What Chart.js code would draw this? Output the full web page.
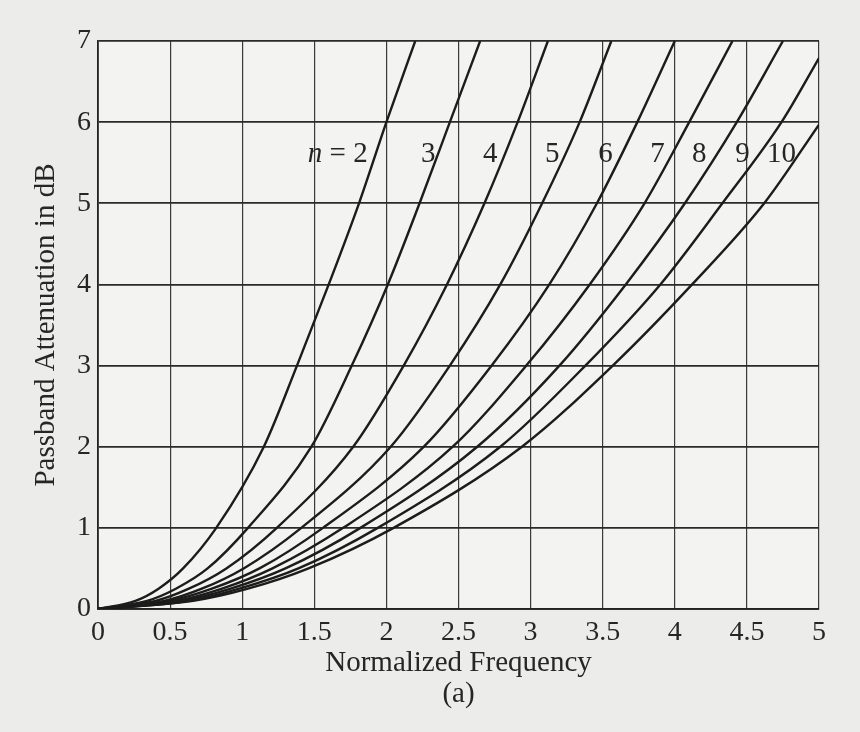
<!DOCTYPE html>
<html>
<head>
<meta charset="utf-8">
<title>Passband Attenuation</title>
<script src="https://cdn.jsdelivr.net/npm/chart.js@4.4.1/dist/chart.umd.min.js"></script>
<style>
    html, body { margin: 0; padding: 0; background: #ececea; }
    #wrap { width: 860px; height: 732px; }
</style>
</head>
<body>
<div id="wrap"><canvas id="attenChart" width="860" height="732"></canvas></div>
<script>
// Niveles de atenuación (dB) donde se leyó cada curva
const levels = [0, 0.1, 0.25, 0.5, 1, 2, 3, 4, 5, 6, 7];

// Frecuencia normalizada de cada curva en esos niveles (null = fuera del gráfico)
const freqN2  = [0, 0.26, 0.42, 0.59, 0.82, 1.15, 1.38, 1.60, 1.81, 2.00, 2.20];
const freqN3  = [0, 0.34, 0.54, 0.76, 1.04, 1.48, 1.76, 2.01, 2.23, 2.44, 2.65];
const freqN4  = [0, 0.40, 0.63, 0.89, 1.24, 1.77, 2.12, 2.42, 2.68, 2.91, 3.12];
const freqN5  = [0, 0.46, 0.72, 1.01, 1.41, 2.03, 2.44, 2.79, 3.08, 3.34, 3.56];
const freqN6  = [0, 0.50, 0.79, 1.12, 1.56, 2.26, 2.73, 3.13, 3.46, 3.74, 4.00];
const freqN7  = [0, 0.55, 0.86, 1.21, 1.70, 2.46, 2.97, 3.41, 3.79, 4.10, 4.40];
const freqN8  = [0, 0.59, 0.92, 1.30, 1.82, 2.63, 3.20, 3.66, 4.07, 4.43, 4.75];
const freqN9  = [0, 0.63, 0.98, 1.39, 1.94, 2.79, 3.38, 3.90, 4.33, 4.74, null];
const freqN10 = [0, 0.66, 1.04, 1.46, 2.05, 2.94, 3.57, 4.12, 4.62, null, null];

// Atenuación donde la curva sale por el borde derecho (f = 5)
const edgeFreq = 5;
const edgeAtten = { 9: 6.79, 10: 5.97 };

const orders = [2, 3, 4, 5, 6, 7, 8, 9, 10];
const freqByOrder = [freqN2, freqN3, freqN4, freqN5, freqN6, freqN7, freqN8, freqN9, freqN10];

// Ticks
const xTicks = [0, 0.5, 1, 1.5, 2, 2.5, 3, 3.5, 4, 4.5, 5];
const yTicks = [0, 1, 2, 3, 4, 5, 6, 7];

const datasets = orders.map(function(n, k) {
    const pts = [];
    freqByOrder[k].forEach(function(f, i) {
        if (f !== null) pts.push({ x: f, y: levels[i] });
    });
    if (edgeAtten[n] !== undefined) pts.push({ x: edgeFreq, y: edgeAtten[n] });
    return {
        label: 'n = ' + n,
        data: pts,
        borderColor: '#1c1c1c',
        borderWidth: 2.4,
        pointRadius: 0,
        fill: false,
        cubicInterpolationMode: 'monotone'
    };
});

const serif = '"Liberation Serif", "DejaVu Serif", serif';
const ink = '#262626';

// Etiquetas de las curvas
const curveLabels = [
    { text: '2', x: 1.87, y: 5.6, withN: true },
    { text: '3', x: 2.29, y: 5.6 },
    { text: '4', x: 2.72, y: 5.6 },
    { text: '5', x: 3.15, y: 5.6 },
    { text: '6', x: 3.52, y: 5.6 },
    { text: '7', x: 3.88, y: 5.6 },
    { text: '8', x: 4.17, y: 5.6 },
    { text: '9', x: 4.47, y: 5.6 },
    { text: '10', x: 4.74, y: 5.6 }
];

const paperPlugin = {
    id: 'paper',
    beforeDraw: function(chart) {
        const ctx = chart.ctx;
        ctx.save();
        ctx.fillStyle = '#ececea';
        ctx.fillRect(0, 0, chart.width, chart.height);
        const a = chart.chartArea;
        ctx.fillStyle = '#f3f3f1';
        ctx.fillRect(a.left, a.top, a.right - a.left, a.bottom - a.top);
        ctx.restore();
    }
};

const labelPlugin = {
    id: 'curveLabels',
    afterDatasetsDraw: function(chart) {
        const ctx = chart.ctx;
        const xs = chart.scales.x, ys = chart.scales.y;
        ctx.save();
        ctx.fillStyle = ink;
        ctx.textBaseline = 'middle';
        curveLabels.forEach(function(l) {
            const px = xs.getPixelForValue(l.x);
            const py = ys.getPixelForValue(l.y);
            ctx.font = '29px ' + serif;
            if (l.withN) {
                ctx.textAlign = 'right';
                ctx.fillText(' = ' + l.text, px, py);
                const w = ctx.measureText(' = ' + l.text).width;
                ctx.font = 'italic 29px ' + serif;
                ctx.fillText('n', px - w, py);
            } else {
                ctx.textAlign = 'center';
                ctx.fillText(l.text, px, py);
            }
        });
        ctx.restore();
    }
};

const ctx = document.getElementById('attenChart').getContext('2d');
const attenChart = new Chart(ctx, {
    type: 'line',
    data: { datasets: datasets },
    options: {
        responsive: false,
        animation: false,
        layout: { padding: { top: 41, right: 41, left: 0, bottom: 0 } },
        plugins: {
            legend: { display: false },
            tooltip: { enabled: false }
        },
        scales: {
            x: {
                type: 'linear',
                min: 0,
                max: 5,
                afterFit: function(scale) { scale.height = 123; },
                afterBuildTicks: function(scale) {
                    scale.ticks = xTicks.map(function(v) { return { value: v }; });
                },
                grid: { color: '#3a3a3a', lineWidth: 1.2, drawTicks: false },
                border: { color: '#222', width: 1.8 },
                ticks: {
                    color: ink,
                    padding: 7,
                    font: { family: serif, size: 28 },
                    callback: function(v) { return String(v); }
                },
                title: {
                    display: true,
                    text: ['Normalized Frequency', '(a)'],
                    color: ink,
                    font: { family: serif, size: 29, lineHeight: 1.07 },
                    padding: { top: 0, bottom: 22 }
                }
            },
            y: {
                type: 'linear',
                min: 0,
                max: 7,
                afterFit: function(scale) { scale.width = 98; },
                afterBuildTicks: function(scale) {
                    scale.ticks = yTicks.map(function(v) { return { value: v }; });
                },
                grid: { color: '#2a2a2a', lineWidth: 1.7, drawTicks: false },
                border: { color: '#222', width: 1.8 },
                ticks: {
                    color: ink,
                    padding: 7,
                    font: { family: serif, size: 28 },
                    callback: function(v) { return String(v); }
                },
                title: {
                    display: true,
                    text: 'Passband Attenuation in dB',
                    color: ink,
                    font: { family: serif, size: 29 },
                    padding: { top: 29, bottom: 0 }
                }
            }
        }
    },
    plugins: [paperPlugin, labelPlugin]
});
</script>
</body>
</html>
